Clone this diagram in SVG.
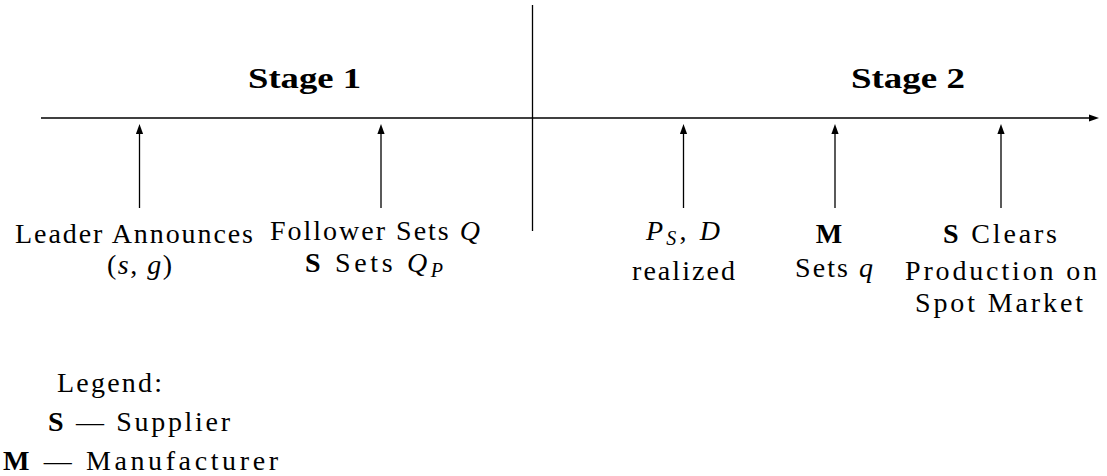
<svg xmlns="http://www.w3.org/2000/svg" width="1107" height="476" viewBox="0 0 1107 476">
  <defs>
    <marker id="ah" markerUnits="userSpaceOnUse" markerWidth="12" markerHeight="8" refX="5" refY="3.6" orient="auto">
      <path d="M0,0 L10,3.6 L0,7.2 Z" fill="#000"/>
    </marker>
  </defs>
  <style>
    text { font-family: "Liberation Serif", "Times New Roman", serif; font-size: 28px; fill: #000; text-anchor: middle; }
    .b { font-weight: bold; }
    .i { font-style: italic; }
    .hdr { font-weight: bold; font-size: 29px; }
    .ln { stroke: #000; stroke-width: 1.3; fill: none; }
  </style>
  <rect width="1107" height="476" fill="#fff"/>

  <g id="connectors">
    <line class="ln" x1="41" y1="118" x2="1094" y2="118" marker-end="url(#ah)"/>
    <line class="ln" x1="532.5" y1="5" x2="532.5" y2="231"/>
    <line class="ln" x1="139.5" y1="208" x2="139.5" y2="129" marker-end="url(#ah)"/>
    <line class="ln" x1="381" y1="208" x2="381" y2="129" marker-end="url(#ah)"/>
    <line class="ln" x1="683.5" y1="208" x2="683.5" y2="129" marker-end="url(#ah)"/>
    <line class="ln" x1="835" y1="208" x2="835" y2="129" marker-end="url(#ah)"/>
    <line class="ln" x1="1001" y1="208" x2="1001" y2="129" marker-end="url(#ah)"/>
  </g>

  <g id="stage1">
    <text class="hdr" x="304.5" y="88" textLength="113" lengthAdjust="spacingAndGlyphs">Stage 1</text>
  </g>
  <g id="stage2">
    <text class="hdr" x="908" y="88" textLength="114" lengthAdjust="spacingAndGlyphs">Stage 2</text>
  </g>

  <g id="leader">
    <text x="134" y="243" textLength="238" lengthAdjust="spacing">Leader Announces</text>
    <text x="139.5" y="274" textLength="65" lengthAdjust="spacing">(<tspan class="i">s</tspan>, <tspan class="i">g</tspan>)</text>
  </g>

  <g id="follower">
    <text x="375" y="240" textLength="210" lengthAdjust="spacing">Follower Sets <tspan class="i">Q</tspan></text>
    <text x="374" y="272" textLength="138" lengthAdjust="spacing"><tspan class="b">S</tspan> Sets <tspan class="i">Q</tspan><tspan class="i" font-size="20" dy="5">P</tspan></text>
  </g>

  <g id="realized">
    <text x="683" y="240" textLength="74" lengthAdjust="spacing"><tspan class="i">P</tspan><tspan class="i" font-size="20" dy="5">S</tspan><tspan dy="-5">, </tspan><tspan class="i">D</tspan></text>
    <text x="683.5" y="280" textLength="103" lengthAdjust="spacing">realized</text>
  </g>

  <g id="manufacturer-sets">
    <text class="b" x="829" y="243" font-size="30">M</text>
    <text x="834" y="277" textLength="78" lengthAdjust="spacing">Sets <tspan class="i">q</tspan></text>
  </g>

  <g id="supplier-clears">
    <text x="1000" y="243" textLength="114" lengthAdjust="spacing"><tspan class="b">S</tspan> Clears</text>
    <text x="1001" y="280" textLength="192" lengthAdjust="spacing">Production on</text>
    <text x="999" y="312" textLength="168" lengthAdjust="spacing">Spot Market</text>
  </g>

  <g id="legend">
    <text x="109.5" y="392" textLength="105" lengthAdjust="spacing">Legend:</text>
    <text x="139" y="431" textLength="182" lengthAdjust="spacing"><tspan class="b">S</tspan> — Supplier</text>
    <text x="140.5" y="470" textLength="275" lengthAdjust="spacing"><tspan class="b">M</tspan> — Manufacturer</text>
  </g>
</svg>
